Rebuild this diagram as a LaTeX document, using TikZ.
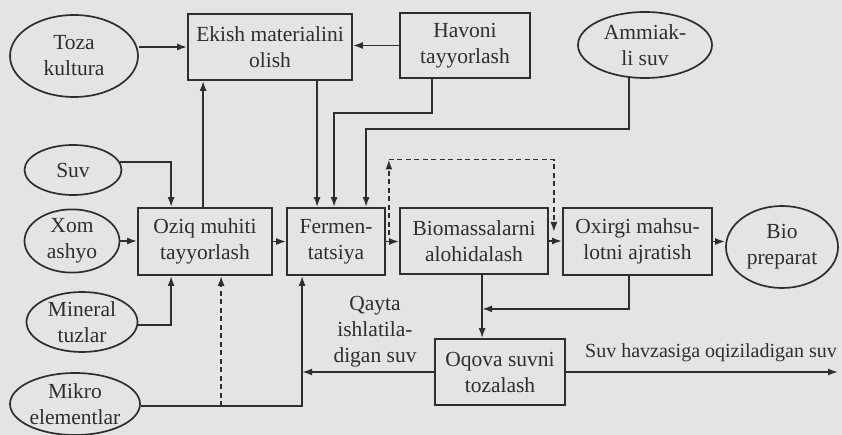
\documentclass[tikz,border=0pt]{standalone}
\usepackage{fontspec}
\setmainfont{Liberation Serif}
\usetikzlibrary{arrows.meta,shapes.geometric,calc}
\definecolor{paper}{HTML}{E4E4E2}
\definecolor{ink}{HTML}{2E2E2E}
\begin{document}
\begin{tikzpicture}[x=1pt,y=-1pt,
  every node/.style={text=ink, font=\fontsize{21.5}{26}\selectfont, align=center, inner sep=0pt},
  box/.style={draw=ink, line width=1.8pt, rectangle},
  oval/.style={draw=ink, line width=1.7pt, ellipse},
  arr/.style={draw=ink, line width=1.7pt, -{Latex[length=10pt,width=7pt]}},
  dasharr/.style={arr, dash pattern=on 5pt off 3.5pt}]
\fill[paper] (0,0) rectangle (842,435);
\useasboundingbox (0,0) rectangle (842,435);
% boxes
\node[box, minimum width=164pt, minimum height=66pt] (ekish) at (270,47) {Ekish materialini\\olish};
\node[box, minimum width=130pt, minimum height=65pt] (havoni) at (465,45.5) {Havoni\\tayyorlash};
\node[box, minimum width=134pt, minimum height=67pt] (oziq) at (205,241.5) {Oziq muhiti\\tayyorlash};
\node[box, minimum width=98pt, minimum height=67pt] (ferm) at (336,241.5) {Fermen-\\tatsiya};
\node[box, minimum width=148pt, minimum height=66pt] (biom) at (474,241) {Biomassalarni\\alohidalash};
\node[box, minimum width=149pt, minimum height=67pt] (oxir) at (637.5,241.5) {Oxirgi mahsu-\\lotni ajratish};
\node[box, minimum width=130pt, minimum height=66pt] (oqova) at (500,372) {Oqova suvni\\tozalash};
% ellipses
\node[oval, minimum width=128pt, minimum height=82pt] (toza) at (74,56) {Toza\\kultura};
\node[oval, minimum width=134pt, minimum height=66pt] (ammiak) at (645,45) {Ammiak-\\li suv};
\node[oval, minimum width=97pt, minimum height=50pt] (suv) at (73,170) {Suv};
\node[oval, minimum width=95pt, minimum height=60pt] (xom) at (72,241) {Xom\\ashyo};
\node[oval, minimum width=111pt, minimum height=60pt] (mineral) at (82,322) {Mineral\\tuzlar};
\node[oval, minimum width=130pt, minimum height=62pt] (mikro) at (75,404) {Mikro\\elementlar};
\node[oval, minimum width=112pt, minimum height=82pt] (bio) at (782,247) {Bio\\preparat};
% labels
\node (qayta) at (375,332) {Qayta\\ishlatila-\\digan suv};
\node[font=\fontsize{20}{24}\selectfont] (havz) at (711,353) {Suv havzasiga oqiziladigan suv};
% top connectors
\draw[arr] (ekish.west -| toza.east) -- (ekish.west);
\draw[arr] (havoni.west) -- (havoni.west -| ekish.east);
\coordinate (f1) at ($(ferm.north west)+(31,0)$);
\coordinate (f2) at ($(ferm.north west)+(48,0)$);
\coordinate (f3) at ($(ferm.north west)+(80,0)$);
\draw[arr] (ekish.south -| f1) -- (f1);
\draw[arr] ($(havoni.south west)+(33,0)$) -- ++(0,34) -| (f2);
\draw[arr] ($(ammiak.south)+(-16,-1)$) -- ++(0,51) -| (f3);
% dashed loop
\coordinate (d1) at ($(ferm.east)+(3,-6)$);
\coordinate (dc) at ($(d1)+(0,-76)$);
\coordinate (d2) at ($(biom.east)+(5,-9)$);
\draw[dasharr] (d1) -- (dc);
\draw[dasharr] (dc) -| (d2);
% left side
\coordinate (o1) at ($(oziq.north west)+(34,0)$);
\coordinate (o2) at ($(oziq.north west)+(66,0)$);
\coordinate (o3) at ($(oziq.south west)+(34,0)$);
\coordinate (o4) at ($(oziq.south west)+(84,0)$);
\coordinate (fb) at ($(ferm.south west)+(16,0)$);
\coordinate (me) at ($(mikro.east)+(0,2)$);
\draw[arr] ($(suv.east)+(-2,-8)$) -| (o1);
\draw[arr] (o2) -- (o2 |- ekish.south);
\draw[arr] (xom.east) -- (xom.east -| oziq.west);
\draw[arr] ($(mineral.east)+(0,3)$) -| (o3);
\draw[arr] (me) -| (fb);
\draw[dasharr] (o4 |- me) -- (o4);
% main row
\draw[arr] (oziq.east) -- (ferm.west);
\draw[arr] (ferm.east) -- (ferm.east -| biom.west);
\draw[arr] (biom.east) -- (biom.east -| oxir.west);
\draw[arr] (oxir.east) -- (oxir.east -| bio.west);
% bottom
\coordinate (b1) at ($(biom.south west)+(83,0)$);
\coordinate (bj) at ($(b1)+(0,34)$);
\coordinate (x1) at ($(oxir.south west)+(67,0)$);
\coordinate (out) at (838,372);
\draw[arr] (b1) -- (b1 |- oqova.north);
\draw[arr] (x1) |- (bj);
\draw[arr] (oqova.west) -- (oqova.west -| fb);
\draw[arr] (oqova.east) -- (out);
\end{tikzpicture}
\end{document}
